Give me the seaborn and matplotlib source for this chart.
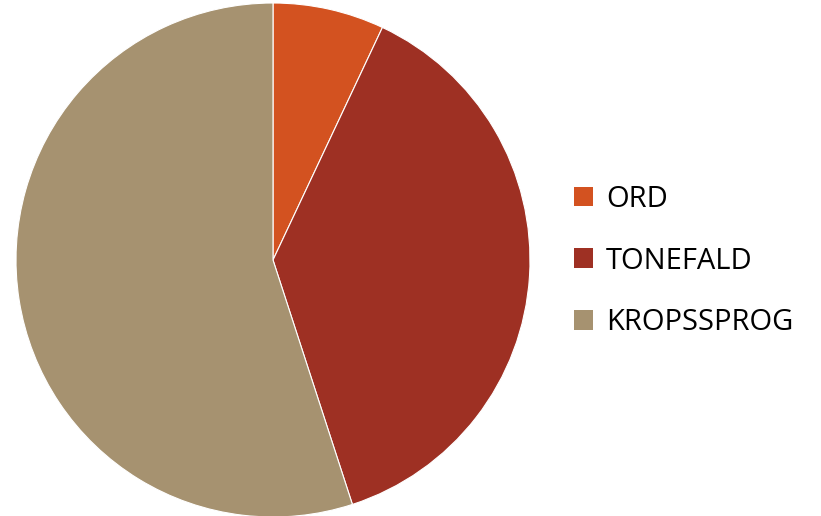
import matplotlib
matplotlib.use("Agg")
import matplotlib.pyplot as plt
import seaborn as sns
from matplotlib.patches import Patch

categories = ["ORD", "TONEFALD", "KROPSSPROG"]
values = [7, 38, 55]
colors = ["#D35220", "#9E3023", "#A69270"]

sns.set_theme(style="white")
plt.rcParams['font.family'] = ['Open Sans', 'DejaVu Sans']

fig = plt.figure(figsize=(8.21, 5.16), dpi=100)
ax = fig.add_axes([(273 - 257) / 821, (516 - 260 - 257) / 516, 514 / 821, 514 / 516])
ax.pie(values, colors=colors, startangle=90, counterclock=False,
       wedgeprops=dict(linewidth=0.8, edgecolor="white"))
ax.set_aspect("equal")
ax.set_xlim(-1, 1)
ax.set_ylim(-1, 1)

handles = [Patch(facecolor=c, edgecolor="none") for c in colors]
leg = fig.legend(handles, categories, loc="center left", bbox_to_anchor=(559 / 821, 1 - 261 / 516),
                 frameon=False, fontsize=21, handlelength=0.66, handleheight=0.66,
                 handletextpad=0.45, labelspacing=1.12, borderpad=0)
for t in leg.get_texts():
    t.set_color("black")

fig.savefig("out.png", dpi=100)
